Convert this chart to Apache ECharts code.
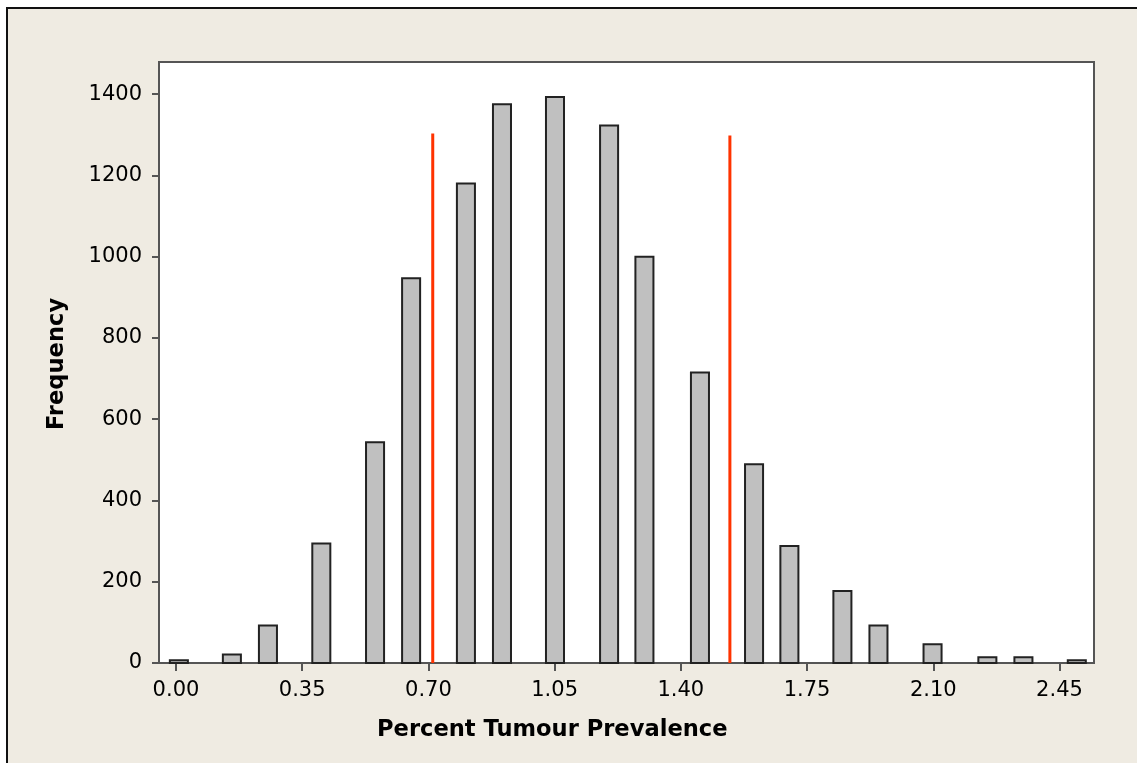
<!DOCTYPE html>
<html>
<head>
<meta charset="utf-8">
<script src="https://cdn.jsdelivr.net/npm/echarts@6/dist/echarts.min.js"></script>
<style>
  html, body { margin: 0; padding: 0; background: #ffffff; }
  #frame { position: absolute; left: 6px; top: 7px; width: 1200px; height: 800px;
           background: #EFEBE2; border-left: 2px solid #111; border-top: 2px solid #111; }
  #chart { position: absolute; left: 0; top: 0; width: 1137px; height: 763px; }
  body { width: 1137px; height: 763px; overflow: hidden; position: relative; }
</style>
</head>
<body>
<div id="frame"></div>
<div id="chart"></div>
<script>
// Bin centres (percent tumour prevalence) and their frequencies
const binCenters = [0.008, 0.155, 0.255, 0.403, 0.552, 0.652, 0.804, 0.904, 1.051, 1.201,
                    1.299, 1.453, 1.603, 1.701, 1.848, 1.948, 2.098, 2.250, 2.350, 2.498];
const frequencies = [7, 21, 92, 294, 543, 947, 1180, 1375, 1393, 1323,
                     1000, 715, 489, 288, 177, 92, 46, 14, 14, 7];
const binWidth = 0.05;
// Reference (interval) lines
const lowerLine = [[0.712, 0], [0.712, 1303]];
const upperLine = [[1.536, 0], [1.536, 1298]];
// Tick labels
const xTicks = [0.00, 0.35, 0.70, 1.05, 1.40, 1.75, 2.10, 2.45];
const yTicks = [0, 200, 400, 600, 800, 1000, 1200, 1400];

const histData = binCenters.map((c, i) => [c, frequencies[i]]);

const chart = echarts.init(document.getElementById('chart'), null, { renderer: 'canvas' });
const axisColor = '#555555';
const labelFont = { color: '#000', fontFamily: 'DejaVu Sans', fontSize: 21 };

chart.setOption({
  backgroundColor: 'transparent',
  animation: false,
  grid: {
    left: 159, right: 43, top: 62, bottom: 100,
    show: true, backgroundColor: '#ffffff', borderColor: axisColor, borderWidth: 2
  },
  xAxis: {
    type: 'value', min: -0.0471, max: 2.5457,
    splitLine: { show: false },
    axisLine: { show: true, onZero: false, lineStyle: { color: axisColor, width: 2 } },
    axisTick: { show: true, length: 8, lineStyle: { color: axisColor, width: 2 }, customValues: xTicks },
    axisLabel: Object.assign({ margin: 17, customValues: xTicks, formatter: v => v.toFixed(2) }, labelFont)
  },
  yAxis: {
    type: 'value', min: 0, max: 1479,
    splitLine: { show: false },
    axisLine: { show: true, onZero: false, lineStyle: { color: axisColor, width: 2 } },
    axisTick: { show: true, length: 7, lineStyle: { color: axisColor, width: 2 }, customValues: yTicks },
    axisLabel: Object.assign({ margin: 17, customValues: yTicks, formatter: v => String(v) }, labelFont)
  },
  graphic: [
    { type: 'text', left: 377, top: 719, style: { text: 'Percent Tumour Prevalence', fill: '#000',
      font: 'bold 22.6px "DejaVu Sans"' } },
    { type: 'text', x: 57, y: 364, rotation: Math.PI / 2,
      style: { text: 'Frequency', fill: '#000', font: 'bold 22.6px "DejaVu Sans"',
               align: 'center', verticalAlign: 'middle' } }
  ],
  series: [
    {
      type: 'custom', name: 'Frequency',
      data: histData,
      renderItem: function (params, api) {
        const c = api.value(0), h = api.value(1);
        const p0 = api.coord([c - binWidth / 2, h]);
        const p1 = api.coord([c + binWidth / 2, 0]);
        return {
          type: 'rect',
          shape: { x: p0[0], y: p0[1], width: p1[0] - p0[0], height: p1[1] - p0[1] },
          style: { fill: '#C0C0C0', stroke: '#222222', lineWidth: 2 }
        };
      }
    },
    { type: 'line', name: 'Lower', data: lowerLine, symbol: 'none',
      lineStyle: { color: '#FF3300', width: 3 }, z: 5 },
    { type: 'line', name: 'Upper', data: upperLine, symbol: 'none',
      lineStyle: { color: '#FF3300', width: 3 }, z: 5 }
  ]
});
</script>
</body>
</html>
